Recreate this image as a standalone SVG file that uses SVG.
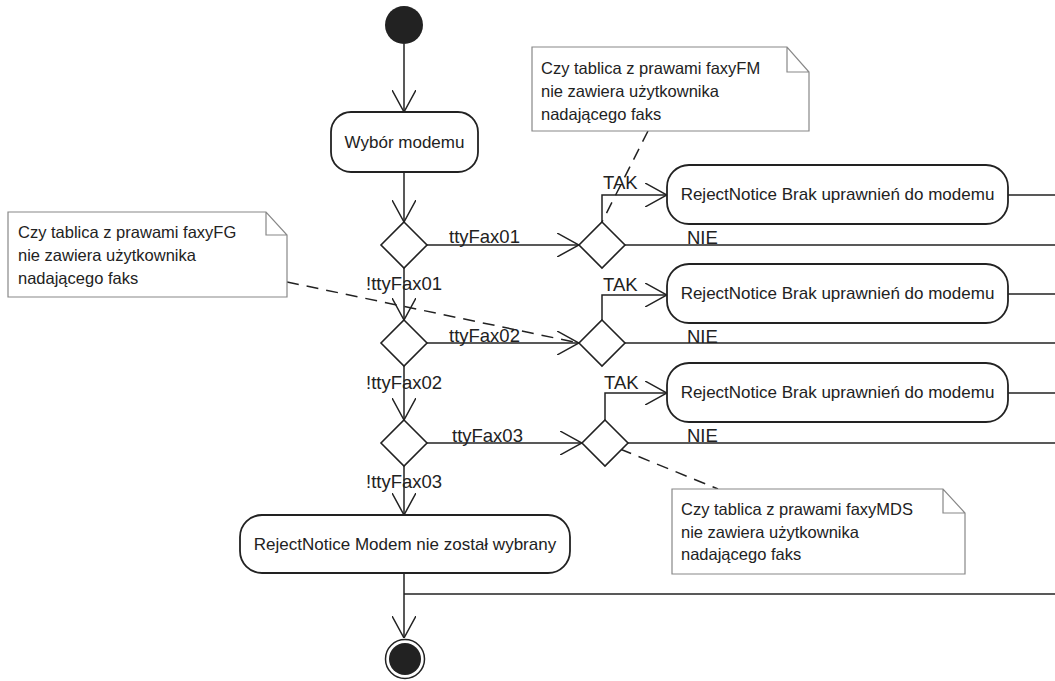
<svg xmlns="http://www.w3.org/2000/svg" width="1055" height="681" viewBox="0 0 1055 681">
<style>
.ln{fill:none;stroke:#222;stroke-width:1.5}
.dash{fill:none;stroke:#222;stroke-width:1.5;stroke-dasharray:12 8}
.node{fill:#fff;stroke:#222;stroke-width:1.8}
.dia{fill:#fff;stroke:#222;stroke-width:1.6}
.note{fill:#fff;stroke:#888;stroke-width:1.2}
.t{font-family:"Liberation Sans",Arial,sans-serif;fill:#222}
.nt{font-size:17px}
.lb{font-size:18.5px}
.ntx{font-size:16.5px}
</style>
<defs>
<marker id="ah" markerUnits="userSpaceOnUse" viewBox="0 0 22 24" refX="22" refY="12" markerWidth="22" markerHeight="24" orient="auto">
<path d="M0,0 L22,12 L0,24" fill="none" stroke="#222" stroke-width="1.5"/>
</marker>
</defs>
<g id="connectors">
<line class="ln" x1="404" y1="44" x2="404" y2="112" marker-end="url(#ah)"/>
<line class="ln" x1="404" y1="172" x2="404" y2="222" marker-end="url(#ah)"/>
<line class="ln" x1="427" y1="245" x2="579" y2="245" marker-end="url(#ah)"/>
<line class="ln" x1="404" y1="268" x2="404" y2="320" marker-end="url(#ah)"/>
<line class="ln" x1="427" y1="343" x2="579" y2="343" marker-end="url(#ah)"/>
<line class="ln" x1="404" y1="366" x2="404" y2="420" marker-end="url(#ah)"/>
<line class="ln" x1="427" y1="443" x2="582" y2="443" marker-end="url(#ah)"/>
<line class="ln" x1="404" y1="466" x2="404" y2="515" marker-end="url(#ah)"/>
<line class="ln" x1="404" y1="573" x2="404" y2="638" marker-end="url(#ah)"/>
<line class="ln" x1="404" y1="594" x2="1055" y2="594"/>
<polyline class="ln" points="602,222 602,195 667,195" marker-end="url(#ah)"/>
<polyline class="ln" points="602,320 602,295 667,295" marker-end="url(#ah)"/>
<polyline class="ln" points="605,420 605,393 667,393" marker-end="url(#ah)"/>
<line class="ln" x1="625" y1="245" x2="1055" y2="245"/>
<line class="ln" x1="625" y1="343" x2="1055" y2="343"/>
<line class="ln" x1="628" y1="443" x2="1055" y2="443"/>
<line class="ln" x1="1008" y1="195" x2="1055" y2="195"/>
<line class="ln" x1="1008" y1="294" x2="1055" y2="294"/>
<line class="ln" x1="1008" y1="393" x2="1055" y2="393"/>
<line class="dash" x1="648" y1="131" x2="602" y2="222"/>
<line class="dash" x1="287" y1="282" x2="579" y2="343"/>
<line class="dash" x1="620" y1="449" x2="718" y2="489"/>
<text class="t lb" x="449" y="243">ttyFax01</text>
<text class="t lb" x="449" y="342">ttyFax02</text>
<text class="t lb" x="452" y="442">ttyFax03</text>
<text class="t lb" x="366" y="290">!ttyFax01</text>
<text class="t lb" x="366" y="389">!ttyFax02</text>
<text class="t lb" x="366" y="488">!ttyFax03</text>
<text class="t lb" x="603" y="189">TAK</text>
<text class="t lb" x="603" y="291">TAK</text>
<text class="t lb" x="604" y="389">TAK</text>
<text class="t lb" x="687" y="244">NIE</text>
<text class="t lb" x="687" y="343">NIE</text>
<text class="t lb" x="687" y="442">NIE</text>
</g>
<g id="start"><circle cx="404" cy="25" r="19" fill="#222"/></g>
<g id="wybor">
<rect class="node" x="331" y="112" width="147" height="60" rx="20"/>
<text class="t nt" x="404.5" y="148" text-anchor="middle">Wybór modemu</text>
</g>
<g id="d1"><polygon class="dia" points="404,222 427,245 404,268 381,245"/></g>
<g id="d2"><polygon class="dia" points="602,222 625,245 602,268 579,245"/></g>
<g id="d3"><polygon class="dia" points="404,320 427,343 404,366 381,343"/></g>
<g id="d4"><polygon class="dia" points="602,320 625,343 602,366 579,343"/></g>
<g id="d5"><polygon class="dia" points="404,420 427,443 404,466 381,443"/></g>
<g id="d6"><polygon class="dia" points="605,420 628,443 605,466 582,443"/></g>
<g id="reject1">
<rect class="node" x="667" y="165" width="341" height="59" rx="22"/>
<text class="t nt" x="837.5" y="200" text-anchor="middle">RejectNotice Brak uprawnień do modemu</text>
</g>
<g id="reject2">
<rect class="node" x="667" y="264" width="341" height="59" rx="22"/>
<text class="t nt" x="837.5" y="299" text-anchor="middle">RejectNotice Brak uprawnień do modemu</text>
</g>
<g id="reject3">
<rect class="node" x="667" y="363" width="341" height="59" rx="22"/>
<text class="t nt" x="837.5" y="398" text-anchor="middle">RejectNotice Brak uprawnień do modemu</text>
</g>
<g id="rejectModem">
<rect class="node" x="240" y="515" width="330" height="58" rx="22"/>
<text class="t nt" x="405" y="550" text-anchor="middle">RejectNotice Modem nie został wybrany</text>
</g>
<g id="end">
<circle cx="405" cy="659" r="19.5" fill="#fff" stroke="#222" stroke-width="1.5"/>
<circle cx="405" cy="659" r="16" fill="#222"/>
</g>
<g id="noteFM">
<path class="note" d="M532,47 H787 L809,72 V131 H532 Z M787,47 V72 H809"/>
<text class="t ntx" x="541" y="74">Czy tablica z prawami faxyFM</text>
<text class="t ntx" x="541" y="97">nie zawiera użytkownika</text>
<text class="t ntx" x="541" y="120">nadającego faks</text>
</g>
<g id="noteFG">
<path class="note" d="M8,212 H266 L287,235 V297 H8 Z M266,212 V235 H287"/>
<text class="t ntx" x="18" y="238">Czy tablica z prawami faxyFG</text>
<text class="t ntx" x="18" y="261">nie zawiera użytkownika</text>
<text class="t ntx" x="18" y="284">nadającego faks</text>
</g>
<g id="noteMDS">
<path class="note" d="M672,489 H943 L965,513 V574 H672 Z M943,489 V513 H965"/>
<text class="t ntx" x="681" y="515">Czy tablica z prawami faxyMDS</text>
<text class="t ntx" x="681" y="538">nie zawiera użytkownika</text>
<text class="t ntx" x="681" y="560">nadającego faks</text>
</g>
</svg>
